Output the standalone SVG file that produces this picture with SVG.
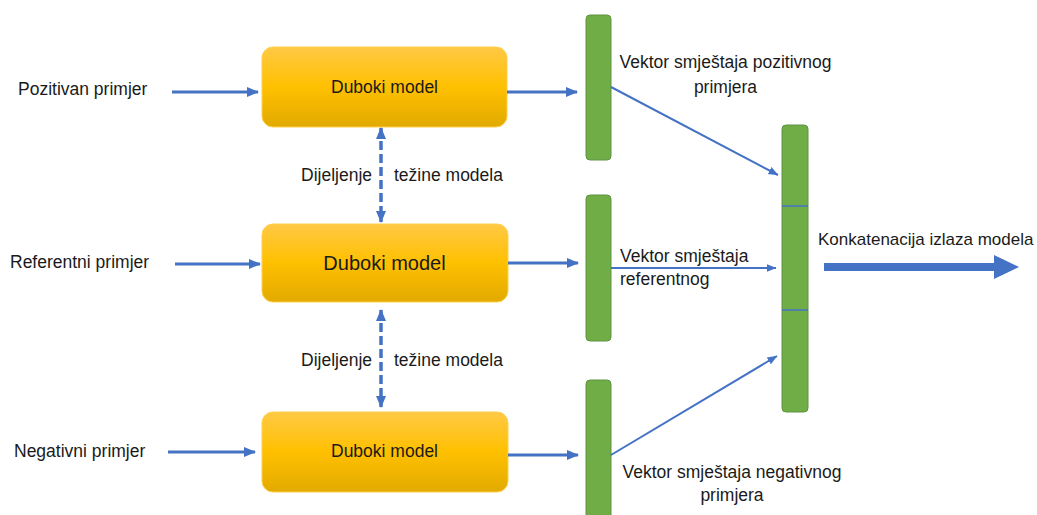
<svg xmlns="http://www.w3.org/2000/svg" width="1037" height="515" viewBox="0 0 1037 515">
<style>
  text { font-family: "Liberation Sans", Arial, sans-serif; fill: #1a1a1a; font-size: 17.5px; }
  .box { fill: url(#gold); stroke: #FFCF4D; stroke-width: 1; }
  .bar { fill: #70AD47; stroke: #5E9440; stroke-width: 1; }
  .conn { stroke: #4472C4; fill: none; }
  .thick { stroke-width: 3; }
  .thin { stroke-width: 2; }
  .dash { stroke-width: 3.5; stroke-dasharray: 9 4; }
</style>
<defs>
  <linearGradient id="gold" x1="0" y1="0" x2="0" y2="1">
    <stop offset="0" stop-color="#FFC945"/>
    <stop offset="0.5" stop-color="#FFC000"/>
    <stop offset="1" stop-color="#E2AA00"/>
  </linearGradient>
  <marker id="ah" markerUnits="userSpaceOnUse" markerWidth="12" markerHeight="12" viewBox="0 0 12 12" refX="11" refY="6" orient="auto-start-reverse">
    <path d="M0,1 L12,6 L0,11 Z" fill="#4472C4"/>
  </marker>
  <marker id="ahs" markerUnits="userSpaceOnUse" markerWidth="10" markerHeight="10" viewBox="0 0 10 10" refX="9.5" refY="5" orient="auto">
    <path d="M0,1 L10,5 L0,9 Z" fill="#4472C4"/>
  </marker>
</defs>

<g id="label-pozitivan"><text x="18" y="95">Pozitivan primjer</text></g>
<g id="label-referentni"><text x="10" y="268">Referentni primjer</text></g>
<g id="label-negativni"><text x="14" y="457">Negativni primjer</text></g>

<g id="model-1">
  <rect class="box" x="262" y="47" width="245" height="80" rx="11"/>
  <text x="384.5" y="93" text-anchor="middle">Duboki model</text>
</g>
<g id="model-2">
  <rect class="box" x="262" y="224" width="246" height="78" rx="11"/>
  <text x="384.5" y="270" text-anchor="middle" style="font-size:20px">Duboki model</text>
</g>
<g id="model-3">
  <rect class="box" x="262" y="412" width="246" height="80" rx="11"/>
  <text x="384.5" y="457" text-anchor="middle">Duboki model</text>
</g>

<g id="share-label-1">
  <text x="301" y="181">Dijeljenje</text>
  <text x="394" y="181">težine modela</text>
</g>
<g id="share-label-2">
  <text x="301" y="366">Dijeljenje</text>
  <text x="394" y="366">težine modela</text>
</g>

<g id="vec-pos">
  <rect class="bar" x="586" y="15" width="25" height="145" rx="4"/>
</g>
<g id="vec-ref">
  <rect class="bar" x="586" y="195" width="25" height="146" rx="4"/>
</g>
<g id="vec-neg">
  <rect class="bar" x="586" y="380" width="25" height="145" rx="4"/>
</g>
<g id="vec-concat">
  <rect class="bar" x="782" y="125" width="26" height="287" rx="4"/>
  <line x1="782" y1="206" x2="808" y2="206" stroke="#4472C4" stroke-width="1.5"/>
  <line x1="782" y1="310" x2="808" y2="310" stroke="#4472C4" stroke-width="1.5"/>
</g>

<g id="label-vec-pos">
  <text x="725.5" y="68" text-anchor="middle">Vektor smještaja pozitivnog</text>
  <text x="725.5" y="93" text-anchor="middle">primjera</text>
</g>
<g id="label-vec-ref">
  <text x="620" y="262">Vektor smještaja</text>
  <text x="620" y="285">referentnog</text>
</g>
<g id="label-vec-neg">
  <text x="732" y="478" text-anchor="middle">Vektor smještaja negativnog</text>
  <text x="732" y="501" text-anchor="middle">primjera</text>
</g>
<g id="label-concat">
  <text x="818" y="245" style="font-size:17px">Konkatenacija izlaza modela</text>
</g>

<g id="connectors">
  <line class="conn thick" x1="172" y1="92" x2="258" y2="92" marker-end="url(#ah)"/>
  <line class="conn thick" x1="175" y1="264" x2="260" y2="264" marker-end="url(#ah)"/>
  <line class="conn thick" x1="168" y1="452" x2="255" y2="452" marker-end="url(#ah)"/>

  <line class="conn thick" x1="507" y1="92" x2="577" y2="92" marker-end="url(#ah)"/>
  <line class="conn thick" x1="508" y1="263" x2="578" y2="263" marker-end="url(#ah)"/>
  <line class="conn thick" x1="508" y1="455" x2="578" y2="455" marker-end="url(#ah)"/>

  <line class="conn dash" x1="381" y1="128" x2="381" y2="222" marker-start="url(#ah)" marker-end="url(#ah)"/>
  <line class="conn dash" x1="381" y1="310" x2="381" y2="407" marker-start="url(#ah)" marker-end="url(#ah)"/>

  <line class="conn thin" x1="611" y1="87" x2="778" y2="175" marker-end="url(#ahs)"/>
  <line class="conn thin" x1="611" y1="268" x2="776" y2="268" marker-end="url(#ahs)"/>
  <line class="conn thin" x1="611" y1="455" x2="777" y2="356" marker-end="url(#ahs)"/>

  <line class="conn" stroke-width="8" x1="824" y1="267" x2="996" y2="267"/>
  <path d="M994,255 L1019,267 L994,279 Z" fill="#4472C4"/>
</g>
</svg>
